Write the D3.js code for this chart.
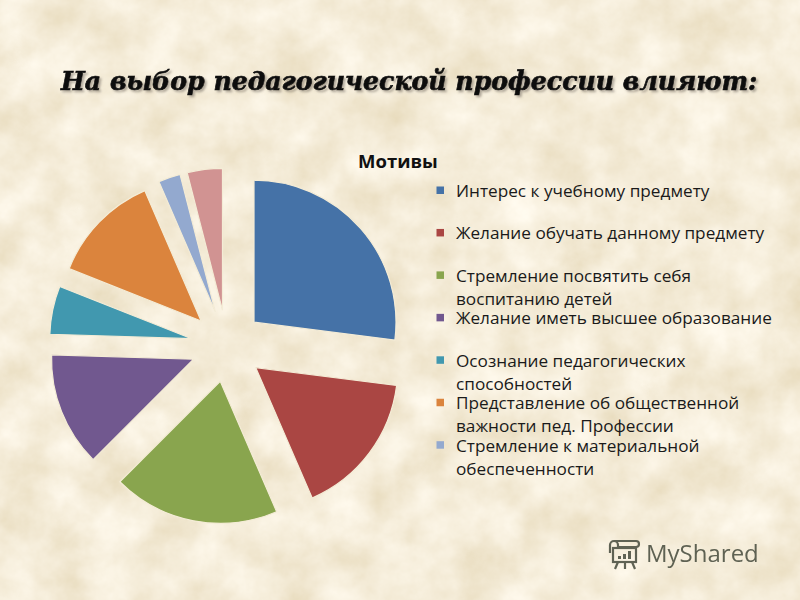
<!DOCTYPE html>
<html>
<head>
<meta charset="utf-8">
<script src="https://cdn.jsdelivr.net/npm/d3@7/dist/d3.min.js"></script>
<style>
  html, body { margin: 0; padding: 0; }
  body { width: 800px; height: 600px; overflow: hidden; }
</style>
</head>
<body>
<svg id="chart" width="800" height="600"></svg>
<script>
// ---- data ----
const title = "На выбор педагогической профессии влияют:";
const legendTitle = "Мотивы";
const categories = [
  "Интерес к учебному предмету",
  "Желание обучать данному предмету",
  "Стремление посвятить себя\nвоспитанию детей",
  "Желание иметь высшее образование",
  "Осознание педагогических\nспособностей",
  "Представление об общественной\nважности пед. Профессии",
  "Стремление к материальной\nобеспеченности",
  ""
];
const values = [27, 16.5, 19, 13, 5.5, 12.5, 2.5, 4];
const colors = ["#4572A7", "#AA4643", "#89A54E", "#71588F", "#4198AF", "#DB843D", "#93A9CF", "#D19392"];

// ---- drawing ----
const svg = d3.select("#chart");
const defs = svg.append("defs");

// parchment texture
const f = defs.append("filter").attr("id", "paper")
  .attr("x", 0).attr("y", 0).attr("width", 800).attr("height", 600)
  .attr("filterUnits", "userSpaceOnUse");
f.append("feTurbulence").attr("type", "fractalNoise")
  .attr("baseFrequency", "0.022").attr("numOctaves", 5).attr("seed", 11);
f.append("feColorMatrix").attr("type", "matrix")
  .attr("values", "0.24 0 0 0 0.79  0.30 0 0 0 0.69  0.42 0 0 0 0.48  0 0 0 0 1");
svg.append("rect").attr("width", 800).attr("height", 600).attr("fill", "#e6d5ab");
svg.append("rect").attr("width", 800).attr("height", 600).attr("filter", "url(#paper)");

const shadowF = defs.append("filter").attr("id", "tshadow")
  .attr("x", "-5%").attr("y", "-30%").attr("width", "110%").attr("height", "160%");
shadowF.append("feDropShadow").attr("dx", 2).attr("dy", 2).attr("stdDeviation", 1)
  .attr("flood-color", "#6b6458").attr("flood-opacity", 0.5);

// title
const titleX = 61, titleY = 90, titleW = 697;
const tMain = svg.append("text")
  .attr("x", titleX).attr("y", titleY)
  .attr("font-family", "'DejaVu Serif', 'Liberation Serif', serif")
  .attr("font-weight", "bold").attr("font-style", "italic")
  .attr("font-size", 24).attr("fill", "#111")
  .attr("stroke", "#111").attr("stroke-width", 0.7)
  .attr("filter", "url(#tshadow)").text(title);
const tw = tMain.node().getComputedTextLength();
tMain.attr("font-size", 24 * titleW / tw);

// pie
const cx = 227, cy = 346, R = 142, explode = 36;
const pie = d3.pie().sort(null).value(d => d)(values);
const arc = d3.arc().innerRadius(0).outerRadius(R);
const g = svg.append("g").attr("transform", `translate(${cx},${cy})`);
g.selectAll("path").data(pie).join("path")
  .attr("d", arc)
  .attr("transform", d => {
    const m = (d.startAngle + d.endAngle) / 2;
    return `translate(${explode * Math.sin(m)},${-explode * Math.cos(m)})`;
  })
  .attr("fill", (d, i) => colors[i])
  .attr("stroke", "#f4ecd6").attr("stroke-width", 1.2);

// legend
const font = "'Open Sans', 'Noto Sans', sans-serif";
svg.append("text").attr("x", 358).attr("y", 168)
  .attr("font-family", font).attr("font-weight", "bold")
  .attr("font-size", 18.5).attr("fill", "#111").text(legendTitle);

const lg = svg.append("g");
const probe = lg.append("text").attr("font-family", font).attr("font-size", 20)
  .text("Желание иметь высшее образование");
const lfs = 20 * 316 / probe.node().getComputedTextLength();
probe.remove();

const legendY = d3.scaleLinear().domain([0, 6]).range([197, 451.7]);
const lineH = 23;
categories.forEach((c, i) => {
  if (!c) return;
  const y0 = legendY(i);
  lg.append("rect").attr("x", 436.5).attr("y", y0 - 10.5).attr("width", 7.5).attr("height", 7.5)
    .attr("fill", colors[i]);
  const t = lg.append("text").attr("font-family", font).attr("font-size", lfs).attr("fill", "#1a1a1a");
  c.split("\n").forEach((line, k) => {
    t.append("tspan").attr("x", 456).attr("y", y0 + k * lineH).text(line);
  });
});

// watermark
const ink = "#454a3c";
const wm = svg.append("g").attr("opacity", 0.85).attr("fill", "none").attr("stroke", ink).attr("stroke-width", 2.2);
wm.append("path").attr("d", "M610,545 a4,4 0 0 1 8,0 L618,548 M610,545 L610,553 M614,541 L636,541 a3,3 0 0 1 0,6 L618,547");
wm.append("rect").attr("x", 613).attr("y", 548).attr("width", 23).attr("height", 14);
wm.append("path").attr("d", "M618,562 L615,569 M625,562 L625,569 M632,562 L635,569");
const wb = svg.append("g").attr("fill", ink).attr("opacity", 0.85);
wb.append("rect").attr("x", 618).attr("y", 556).attr("width", 3).attr("height", 3);
wb.append("rect").attr("x", 623).attr("y", 554).attr("width", 3).attr("height", 5);
wb.append("rect").attr("x", 628).attr("y", 551).attr("width", 3).attr("height", 8);
svg.append("text").attr("x", 646).attr("y", 562)
  .attr("font-family", font).attr("font-size", 24).attr("fill", ink).attr("opacity", 0.85)
  .text("MyShared");
</script>
</body>
</html>
